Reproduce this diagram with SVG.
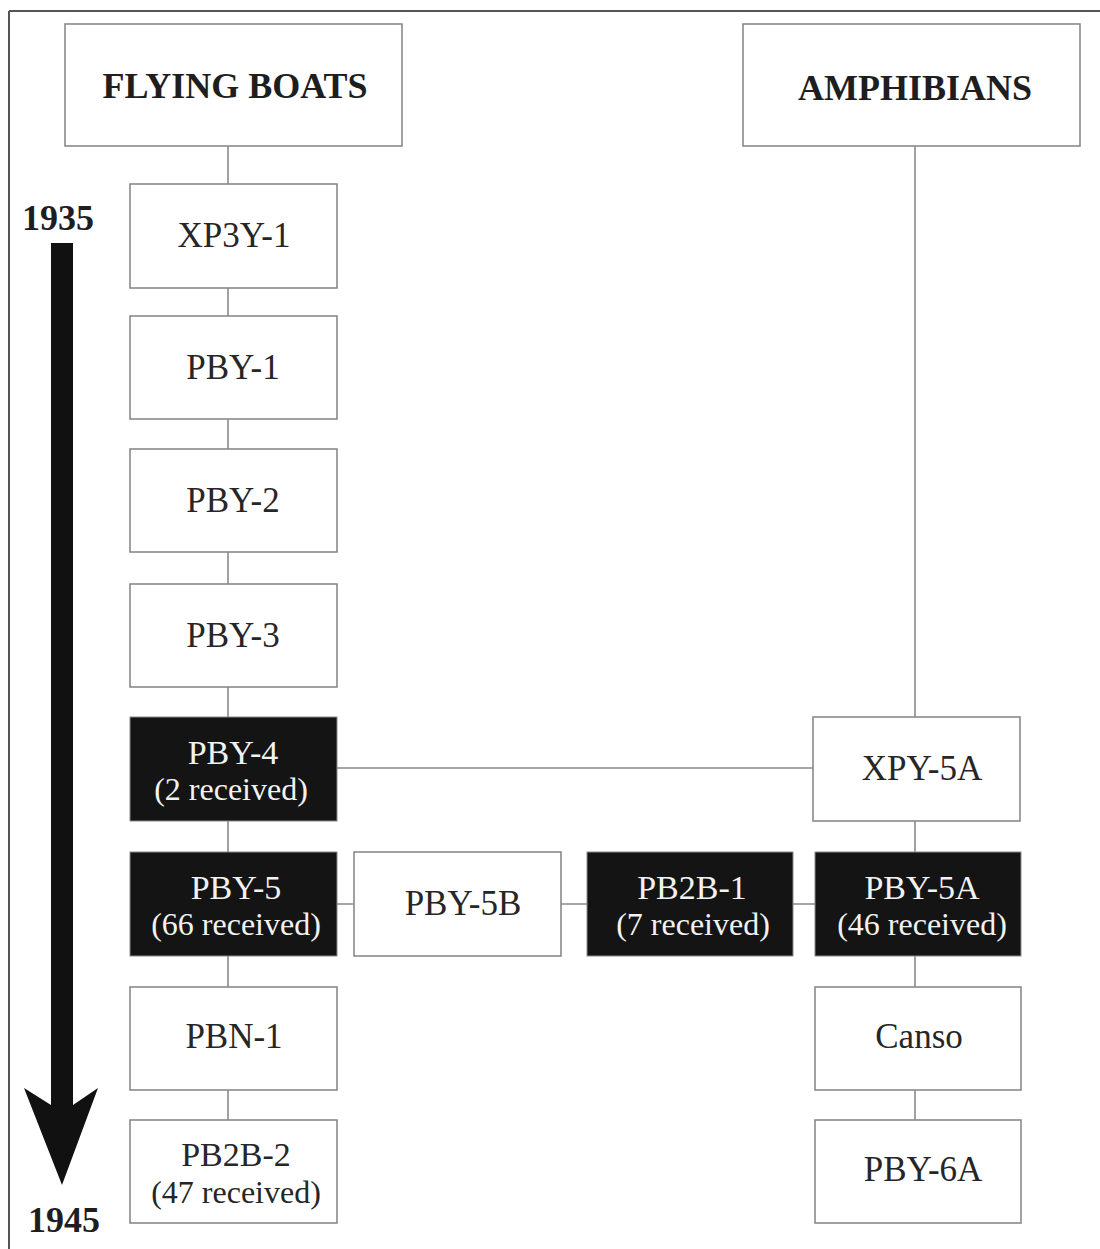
<svg xmlns="http://www.w3.org/2000/svg" width="1100" height="1249" viewBox="0 0 1100 1249">
<style>
  .box{fill:#fff;stroke:#8a8a8a;stroke-width:1.6}
  .dark{fill:#141414;stroke:#8a8a8a;stroke-width:1}
  .lbl{font-family:"Liberation Serif","Times New Roman",serif;font-size:35px;fill:#262626;text-anchor:middle}
  .top{font-size:34px}
  .sub{font-family:"Liberation Serif","Times New Roman",serif;font-size:32px;fill:#262626;text-anchor:middle}
  .w{fill:#f2f2f2}
  .head{font-family:"Liberation Serif","Times New Roman",serif;font-size:36px;font-weight:bold;fill:#1e1e1e;text-anchor:middle}
  .year{font-family:"Liberation Serif","Times New Roman",serif;font-size:36px;font-weight:bold;fill:#1e1e1e;text-anchor:middle}
  .conn{stroke:#8a8a8a;stroke-width:1.6;fill:none}
</style>
<rect x="0" y="0" width="1100" height="1249" fill="#fff"/>
<g id="frame">
  <line x1="9" y1="11" x2="1100" y2="11" stroke="#555" stroke-width="2"/>
  <line x1="9" y1="11" x2="9" y2="1249" stroke="#555" stroke-width="2"/>
</g>
<g id="connectors">
  <line class="conn" x1="228" y1="146" x2="228" y2="1120"/>
  <line class="conn" x1="915" y1="146" x2="915" y2="1120"/>
  <line class="conn" x1="337" y1="768" x2="813" y2="768"/>
  <line class="conn" x1="336" y1="904" x2="815" y2="904"/>
</g>
<g id="timeline">
  <text class="year" x="58" y="230">1935</text>
  <path d="M51,243 L73,243 L73,1105 L98,1088 L62,1185 L24,1088 L51,1105 Z" fill="#111"/>
  <text class="year" x="64" y="1232">1945</text>
</g>
<g id="flying-boats">
  <rect class="box" x="65" y="24" width="337" height="122"/>
  <text class="head" x="235" y="98">FLYING BOATS</text>
</g>
<g id="amphibians">
  <rect class="box" x="743" y="24" width="337" height="122"/>
  <text class="head" x="915" y="100">AMPHIBIANS</text>
</g>
<g id="xp3y-1">
  <rect class="box" x="130" y="184" width="207" height="104"/>
  <text class="lbl" x="234" y="247">XP3Y-1</text>
</g>
<g id="pby-1">
  <rect class="box" x="130" y="316" width="207" height="103"/>
  <text class="lbl" x="233" y="379">PBY-1</text>
</g>
<g id="pby-2">
  <rect class="box" x="130" y="449" width="207" height="103"/>
  <text class="lbl" x="233" y="512">PBY-2</text>
</g>
<g id="pby-3">
  <rect class="box" x="130" y="584" width="207" height="103"/>
  <text class="lbl" x="233" y="647">PBY-3</text>
</g>
<g id="pby-4">
  <rect class="dark" x="130" y="717" width="207" height="104"/>
  <text class="lbl top w" x="233" y="764">PBY-4</text>
  <text class="sub w" x="231" y="800">(2 received)</text>
</g>
<g id="xpy-5a">
  <rect class="box" x="813" y="717" width="207" height="104"/>
  <text class="lbl" x="922" y="780">XPY-5A</text>
</g>
<g id="pby-5">
  <rect class="dark" x="130" y="852" width="207" height="104"/>
  <text class="lbl top w" x="236" y="899">PBY-5</text>
  <text class="sub w" x="236" y="935">(66 received)</text>
</g>
<g id="pby-5b">
  <rect class="box" x="354" y="852" width="207" height="104"/>
  <text class="lbl" x="463" y="915">PBY-5B</text>
</g>
<g id="pb2b-1">
  <rect class="dark" x="587" y="852" width="206" height="104"/>
  <text class="lbl top w" x="692" y="899">PB2B-1</text>
  <text class="sub w" x="693" y="935">(7 received)</text>
</g>
<g id="pby-5a">
  <rect class="dark" x="815" y="852" width="206" height="104"/>
  <text class="lbl top w" x="922" y="899">PBY-5A</text>
  <text class="sub w" x="922" y="935">(46 received)</text>
</g>
<g id="pbn-1">
  <rect class="box" x="130" y="987" width="207" height="103"/>
  <text class="lbl" x="234" y="1048">PBN-1</text>
</g>
<g id="canso">
  <rect class="box" x="815" y="987" width="206" height="103"/>
  <text class="lbl" x="919" y="1048">Canso</text>
</g>
<g id="pb2b-2">
  <rect class="box" x="130" y="1120" width="207" height="103"/>
  <text class="lbl top" x="236" y="1166">PB2B-2</text>
  <text class="sub" x="236" y="1203">(47 received)</text>
</g>
<g id="pby-6a">
  <rect class="box" x="815" y="1120" width="206" height="103"/>
  <text class="lbl" x="923" y="1181">PBY-6A</text>
</g>
</svg>
